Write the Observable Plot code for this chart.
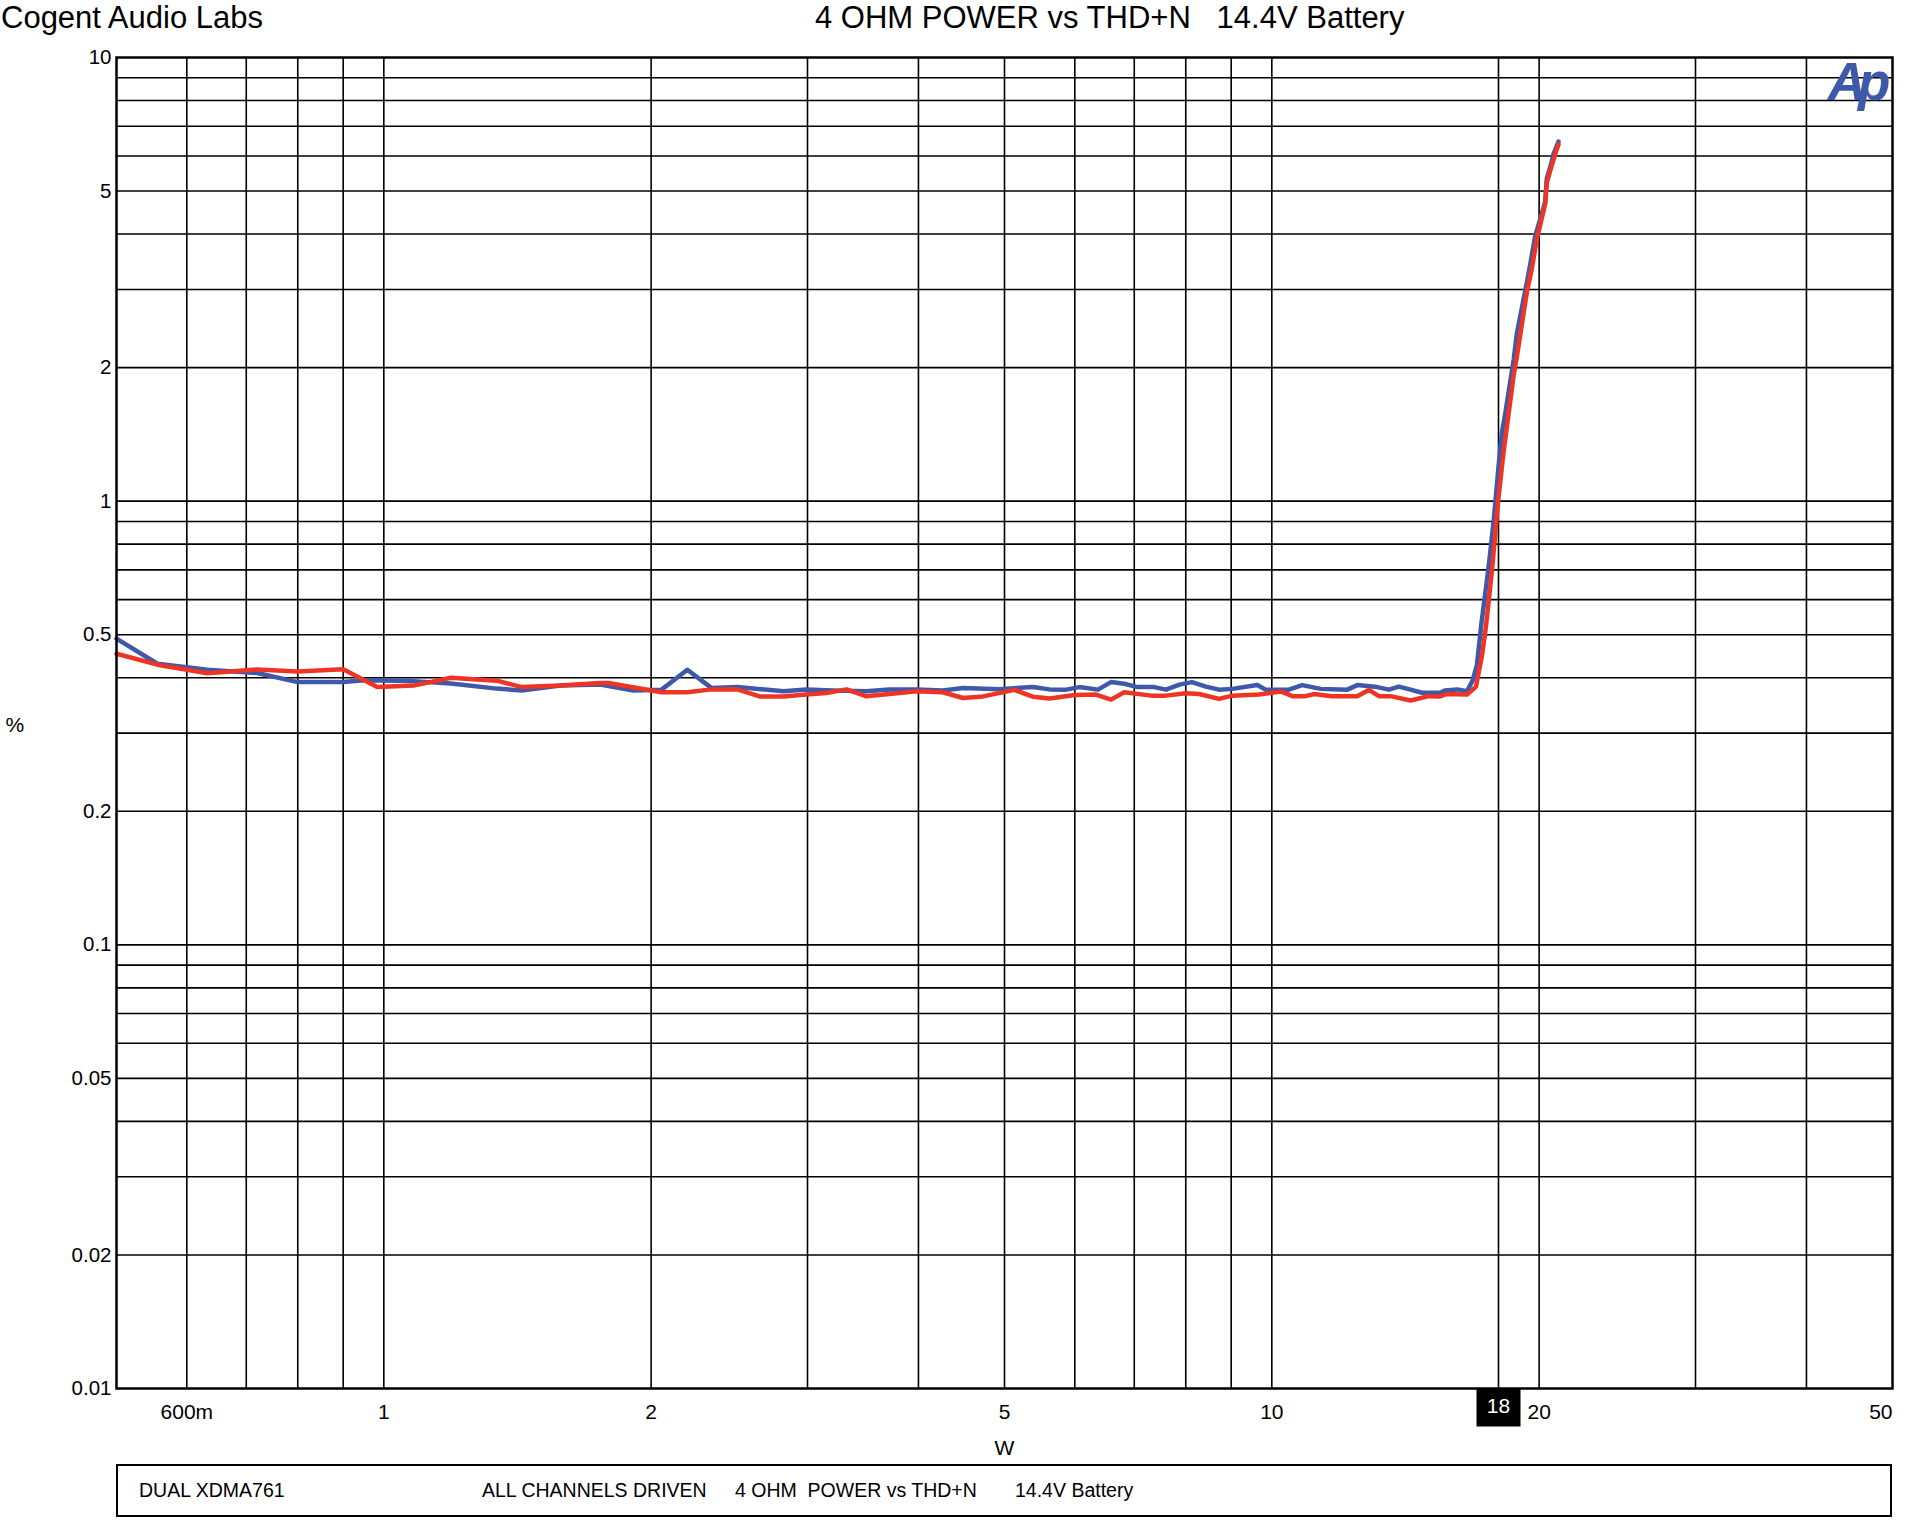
<!DOCTYPE html>
<html>
<head>
<meta charset="utf-8">
<script src="https://cdn.jsdelivr.net/npm/d3@7"></script>
<script src="https://cdn.jsdelivr.net/npm/@observablehq/plot@0.6"></script>
<style>
  body { margin: 0; background: #fff; font-family: "Liberation Sans", Arial, sans-serif; }
  #wrap { position: relative; width: 1908px; height: 1530px; overflow: hidden; }
  .hdr { position: absolute; top: 1px; font-size: 31px; line-height: 1.1; white-space: pre; color: #000; }
  #chart { position: absolute; left: 0; top: 40px; }
  #foot { position: absolute; left: 116px; top: 1464px; width: 1776px; height: 53px; box-sizing: border-box; border: 2px solid #000; }
  .ft { position: absolute; top: 50%; transform: translateY(-50%); font-size: 19.5px; line-height: 1; white-space: pre; color: #000; }
</style>
</head>
<body>
<div id="wrap">
  <div class="hdr" style="left:1px">Cogent Audio Labs</div>
  <div class="hdr" style="left:815px">4 OHM POWER vs THD+N   14.4V Battery</div>
  <div id="chart"></div>
  <div id="foot">
    <div class="ft" style="left:21px">DUAL XDMA761</div>
    <div class="ft" style="left:364px">ALL CHANNELS DRIVEN</div>
    <div class="ft" style="left:617px">4 OHM  POWER vs THD+N</div>
    <div class="ft" style="left:897px">14.4V Battery</div>
  </div>
</div>
<script>
// ---- Data ----
const blueW = [0.5, 0.556, 0.633, 0.72, 0.8, 0.9, 0.95, 1.08, 1.19, 1.34, 1.43, 1.58, 1.753, 1.91, 2.055, 2.197, 2.34, 2.5, 2.82, 2.99, 3.2, 3.49, 3.71, 3.98, 4.26, 4.49, 4.935, 5.38, 5.62, 5.87, 6.07, 6.37, 6.59, 6.82, 7.06, 7.37, 7.6, 7.87, 8.13, 8.43, 8.72, 9.03, 9.63, 9.84, 10.45, 10.82, 11.35, 12.16, 12.48, 13.14, 13.55, 13.9, 14.33, 14.76, 15.48, 15.66, 16.17, 16.59, 16.83, 17.02, 17.22, 17.55, 17.78, 18.0, 18.16, 18.32, 18.72, 18.88, 19.38, 19.54, 19.8, 20.06, 20.32, 20.4, 20.58, 20.76, 21.03];
const blueTHD = [0.49, 0.43, 0.417, 0.41, 0.391, 0.391, 0.395, 0.393, 0.388, 0.378, 0.3745, 0.384, 0.386, 0.3745, 0.376, 0.417, 0.379, 0.381, 0.373, 0.3765, 0.3745, 0.373, 0.3765, 0.3765, 0.3745, 0.379, 0.377, 0.381, 0.3765, 0.376, 0.381, 0.376, 0.391, 0.3876, 0.381, 0.381, 0.376, 0.386, 0.391, 0.382, 0.376, 0.3775, 0.385, 0.376, 0.376, 0.385, 0.3775, 0.376, 0.385, 0.381, 0.376, 0.382, 0.376, 0.37, 0.37, 0.3745, 0.3765, 0.373, 0.394, 0.427, 0.53, 0.714, 0.906, 1.195, 1.428, 1.577, 2.08, 2.39, 3.12, 3.41, 3.96, 4.33, 4.73, 5.33, 5.65, 6.06, 6.46];

const redW = [0.5, 0.556, 0.633, 0.72, 0.8, 0.9, 0.983, 1.08, 1.19, 1.34, 1.43, 1.58, 1.753, 1.79, 2.055, 2.197, 2.34, 2.5, 2.65, 2.82, 2.99, 3.15, 3.32, 3.49, 3.71, 3.98, 4.26, 4.49, 4.73, 5.13, 5.38, 5.62, 6.0, 6.34, 6.59, 6.82, 7.32, 7.6, 8.0, 8.28, 8.72, 9.03, 9.67, 10.23, 10.55, 10.91, 11.17, 11.68, 12.48, 12.86, 13.2, 13.6, 14.33, 15.02, 15.48, 15.72, 16.59, 16.98, 17.25, 17.42, 17.7, 18.0, 18.24, 18.48, 18.72, 18.88, 19.38, 19.63, 19.89, 20.06, 20.32, 20.4, 20.58, 20.85, 21.03];
const redTHD = [0.453, 0.428, 0.4095, 0.4175, 0.413, 0.418, 0.381, 0.384, 0.4, 0.394, 0.381, 0.384, 0.389, 0.389, 0.371, 0.371, 0.3765, 0.3765, 0.363, 0.363, 0.3665, 0.3695, 0.3765, 0.3635, 0.3675, 0.373, 0.371, 0.36, 0.363, 0.3755, 0.3625, 0.359, 0.3655, 0.3665, 0.357, 0.371, 0.3645, 0.3645, 0.369, 0.3675, 0.3585, 0.3645, 0.3665, 0.3725, 0.3635, 0.3635, 0.3675, 0.3635, 0.3635, 0.3755, 0.3635, 0.3635, 0.3555, 0.3635, 0.363, 0.3675, 0.3665, 0.382, 0.45, 0.52, 0.7, 1.02, 1.293, 1.577, 1.92, 2.12, 2.97, 3.35, 3.92, 4.2, 4.69, 5.22, 5.55, 6.06, 6.37];

const xTicks = [0.6, 1, 2, 5, 10, 20];
const xTickLabels = ["600m", "1", "2", "5", "10", "20"];
const xEndTick = [50];
const xEndTickLabel = ["50"];
const xCursor = [18];
const xGrid = [0.6, 0.7, 0.8, 0.9, 1, 2, 3, 4, 5, 6, 7, 8, 9, 10, 20, 30, 40];
const yTicks = [10, 5, 2, 1, 0.5, 0.2, 0.1, 0.05, 0.02, 0.01];
const yTickLabels = ["10", "5", "2", "1", "0.5", "0.2", "0.1", "0.05", "0.02", "0.01"];
const yGrid = [0.02, 0.03, 0.04, 0.05, 0.06, 0.07, 0.08, 0.09, 0.1, 0.2, 0.3, 0.4, 0.5, 0.6, 0.7, 0.8, 0.9, 1, 2, 3, 4, 5, 6, 7, 8, 9];

const blue = blueW.map((w, i) => ({w, thd: blueTHD[i]}));
const red = redW.map((w, i) => ({w, thd: redTHD[i]}));

const boxSymbol = { draw(ctx) { ctx.moveTo(-22, -19); ctx.lineTo(22, -19); ctx.lineTo(22, 19); ctx.lineTo(-22, 19); ctx.closePath(); } };

const chart = Plot.plot({
  width: 1908,
  height: 1420,
  marginLeft: 116,
  marginRight: 16,
  marginTop: 17,
  marginBottom: 72,
  style: { fontFamily: "'Liberation Sans', Arial, sans-serif", fontSize: "20.5px", background: "white", color: "black", overflow: "visible" },
  x: { type: "log", domain: [0.5, 50], axis: null },
  y: { type: "log", domain: [0.01, 10], axis: null },
  marks: [
    Plot.ruleX(xGrid, { x: d => d, stroke: "#000", strokeWidth: 1.6 }),
    Plot.ruleX(xCursor, { x: d => d, stroke: "#000", strokeWidth: 1.6 }),
    Plot.ruleY(yGrid, { y: d => d, stroke: "#000", strokeWidth: 1.6 }),
    Plot.line(blue, { x: "w", y: "thd", stroke: "#3e58aa", strokeWidth: 4.5, strokeLinejoin: "round", strokeLinecap: "round" }),
    Plot.line(red, { x: "w", y: "thd", stroke: "#ee3424", strokeWidth: 4.5, strokeLinejoin: "round", strokeLinecap: "round" }),
    Plot.frame({ stroke: "#000", strokeWidth: 2.5 }),
    Plot.axisY(yTicks, { anchor: "left", label: null, tickSize: 0, tickPadding: 5, tickFormat: d => yTickLabels[yTicks.indexOf(d)], fontSize: 20.5 }),
    Plot.text(xTicks, { x: d => d, frameAnchor: "bottom", dy: 30, text: (d, i) => xTickLabels[i], fontSize: 21 }),
    Plot.text(xEndTick, { x: d => d, frameAnchor: "bottom", dy: 30, textAnchor: "end", text: (d, i) => xEndTickLabel[i], fontSize: 21 }),
    Plot.dot(xCursor, { x: d => d, frameAnchor: "bottom", dy: 19, symbol: boxSymbol, fill: "#000", stroke: "none" }),
    Plot.text(xCursor, { x: d => d, frameAnchor: "bottom", dy: 24, text: d => String(d), fill: "#fff", fontSize: 21 }),
    Plot.text(["%"], { frameAnchor: "left", dx: -111, dy: 2, textAnchor: "start", text: d => d, fontSize: 21 }),
    Plot.text(["W"], { frameAnchor: "bottom", dy: 66, text: d => d, fontSize: 21 }),
    Plot.text(["Ap"], { frameAnchor: "top-right", dx: -10, dy: 5, textAnchor: "end", lineAnchor: "top", text: d => d, fontSize: 53, fontWeight: "bold", fontStyle: "italic", fill: "#3e58aa" })
  ]
});

document.getElementById("chart").appendChild(chart);
d3.select(chart).selectAll("text").filter(function () { return this.textContent === "Ap"; }).attr("letter-spacing", "-8px");
</script>
</body>
</html>
